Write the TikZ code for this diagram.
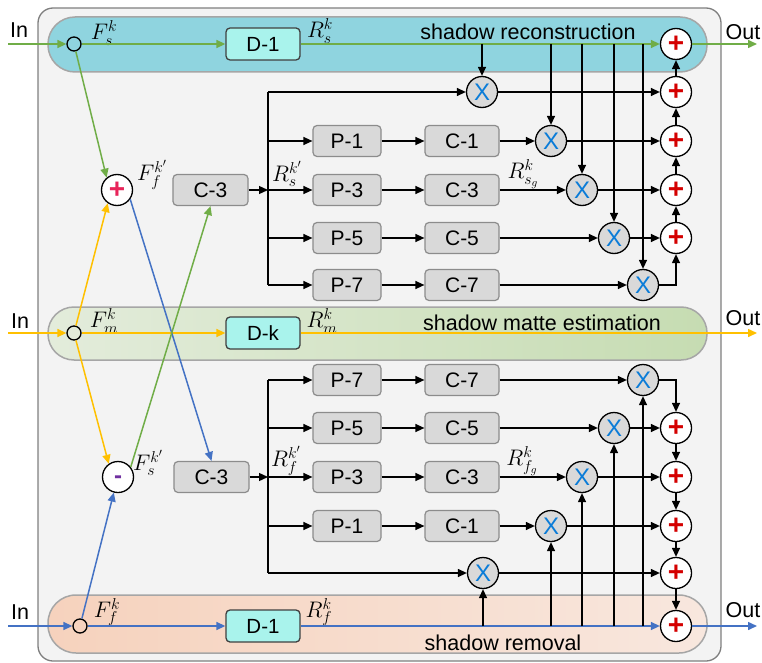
\RequirePackage{fix-cm}
\documentclass[tikz,border=0pt]{standalone}
\usepackage{fontspec}
\setmainfont{Liberation Sans}
\usetikzlibrary{arrows.meta}

\definecolor{panel}{HTML}{F3F3F3}
\definecolor{panelborder}{HTML}{7F7F7F}
\definecolor{bandborder}{HTML}{A6A6A6}
\definecolor{bandcyan}{HTML}{8FD4DF}
\definecolor{greenL}{HTML}{E3ECDB}
\definecolor{greenR}{HTML}{C6DCB2}
\definecolor{peachL}{HTML}{F6D2BD}
\definecolor{peachR}{HTML}{F8E7DE}
\definecolor{dboxfill}{HTML}{A9F3EC}
\definecolor{boxgray}{HTML}{D9D9D9}
\definecolor{boxborder}{HTML}{8C8C8C}
\definecolor{linegreen}{HTML}{70AD47}
\definecolor{lineyellow}{HTML}{FFC000}
\definecolor{lineblue}{HTML}{4472C4}
\definecolor{xblue}{HTML}{0A7CD8}
\definecolor{plusred}{HTML}{D40000}
\definecolor{pinkred}{HTML}{E8245A}
\definecolor{minuspurple}{HTML}{7030A0}

\tikzset{
  txt/.style={font=\fontsize{21.5}{24}\selectfont, inner sep=0pt},
  lbl/.style={font=\fontsize{22.5}{26}\selectfont, inner sep=0pt},
  tap/.style={circle, draw=black, line width=1.3pt, minimum size=14pt, inner sep=0pt},
  dbox/.style={rectangle, rounded corners=4pt, draw=black!75, line width=1.3pt, fill=dboxfill,
    minimum width=74pt, minimum height=32pt, inner sep=0pt, font=\fontsize{20.5}{24}\selectfont},
  pbox/.style={rectangle, rounded corners=4pt, draw=boxborder, line width=1.2pt, fill=boxgray,
    minimum width=68pt, minimum height=31pt, inner sep=0pt, font=\fontsize{21}{24}\selectfont},
  cbox/.style={pbox, minimum width=74pt},
  xnode/.style={circle, draw=black, line width=1.3pt, fill=boxgray, minimum size=31pt, inner sep=0pt,
    text=xblue, font=\fontsize{24}{24}\selectfont},
  pnode/.style={circle, draw=black, line width=1.3pt, fill=white, minimum size=31pt, inner sep=0pt,
    text=plusred, font=\bfseries\fontsize{28}{28}\selectfont},
  mnode/.style={pnode, text=minuspurple, font=\bfseries\fontsize{24}{24}\selectfont,
    text height=12.6pt, text depth=0pt},
  bline/.style={draw=black, line width=1.3pt},
  gline/.style={draw=linegreen, line width=1.5pt},
  yline/.style={draw=lineyellow, line width=1.5pt},
  uline/.style={draw=lineblue, line width=1.5pt},
}

\begin{document}
\begin{tikzpicture}[x=1pt, y=-1pt, >={Triangle[length=9pt,width=8pt]}]
\useasboundingbox (0,0) rectangle (762,663);

% outer panel and the three streams
\draw[draw=panelborder, fill=panel, line width=1.3pt, rounded corners=15pt] (38,8) rectangle (721,661);
\path[draw=bandborder, line width=1.5pt, fill=bandcyan, rounded corners=27pt] (48,17) rectangle (707,72);
\path[draw=bandborder, line width=1.5pt, left color=greenL, right color=greenR, rounded corners=26pt] (48,307) rectangle (707,360);
\path[draw=bandborder, line width=1.5pt, left color=peachL, right color=peachR, rounded corners=28pt] (48,595) rectangle (707,653);

\node[txt] (tsr) at (528,32) {shadow reconstruction};
\node[txt] (tme) at (542,323) {shadow matte estimation};
\node[txt] (tsm) at (503,643) {shadow removal};

% inputs and outputs
\node[txt] (ins-l) at (19,30) {In};
\node[txt] (inm-l) at (20,321) {In};
\node[txt] (inf-l) at (20,612) {In};
\node[txt] (outs-l) at (743,32) {Out};
\node[txt] (outm-l) at (743,318) {Out};
\node[txt] (outf-l) at (743,610) {Out};
\coordinate (srcs) at (8,44);
\coordinate (srcm) at (8,333);
\coordinate (srcf) at (8,626);
\coordinate (dsts) at (757,44);
\coordinate (dstm) at (757,333);
\coordinate (dstf) at (757,626);

\node[tap] (ins) at (74,44) {};
\node[tap] (inm) at (74,333) {};
\node[tap] (inf) at (80,626) {};

\node[dbox] (d1s) at (263,44) {D-1};
\node[dbox] (dk)  at (263,333) {D-k};
\node[dbox] (d1f) at (263,626) {D-1};

\node[pnode] (outs) at (676,44) {+};
\node[pnode] (outf) at (676,626) {+};

% cross-stream fusion
\node[pnode, text=pinkred] (fuse) at (117,190) {+};
\node[mnode] (diff) at (118,477) {-};
\node[pbox, minimum width=75pt] (c3s) at (210.5,190) {C-3};
\node[pbox, minimum width=75pt] (c3f) at (211.5,477) {C-3};

% upper multi-scale branch
\node[pbox] (p1s) at (347,141) {P-1};
\node[pbox] (p3s) at (347,190) {P-3};
\node[pbox] (p5s) at (347,238) {P-5};
\node[pbox] (p7s) at (347,285) {P-7};
\node[cbox] (k1s) at (462,141) {C-1};
\node[cbox] (k3s) at (462,190) {C-3};
\node[cbox] (k5s) at (462,238) {C-5};
\node[cbox] (k7s) at (462,285) {C-7};
\node[xnode] (x0s) at (482,92) {X};
\node[xnode] (x1s) at (551,141) {X};
\node[xnode] (x2s) at (582,190) {X};
\node[xnode] (x3s) at (614,238) {X};
\node[xnode] (x4s) at (643,285) {X};
\node[pnode] (a0s) at (676,92) {+};
\node[pnode] (a1s) at (676,141) {+};
\node[pnode] (a2s) at (676,190) {+};
\node[pnode] (a3s) at (676,238) {+};

% lower multi-scale branch
\node[pbox] (p7f) at (347,380) {P-7};
\node[pbox] (p5f) at (347,428) {P-5};
\node[pbox] (p3f) at (347,477) {P-3};
\node[pbox] (p1f) at (347,526) {P-1};
\node[cbox] (k7f) at (462,380) {C-7};
\node[cbox] (k5f) at (462,428) {C-5};
\node[cbox] (k3f) at (462,477) {C-3};
\node[cbox] (k1f) at (462,526) {C-1};
\node[xnode] (x4f) at (643,380) {X};
\node[xnode] (x3f) at (614,428) {X};
\node[xnode] (x2f) at (582,477) {X};
\node[xnode] (x1f) at (551,526) {X};
\node[xnode] (x0f) at (483,573) {X};
\node[pnode] (a3f) at (676,428) {+};
\node[pnode] (a2f) at (676,477) {+};
\node[pnode] (a1f) at (676,526) {+};
\node[pnode] (a0f) at (676,573) {+};

% math labels
\node[lbl] at (104,33) {$F_s^k$};
\node[lbl] at (320,31) {$R_s^k$};
\node[lbl] at (152,175) {$F_f^{k'}$};
\node[lbl] at (287,174) {$R_s^{k'}$};
\node[lbl] at (523,174) {$R_{s_g}^k$};
\node[lbl] at (104,321) {$F_m^k$};
\node[lbl] at (322,321) {$R_m^k$};
\node[lbl] at (148,463) {$F_s^{k'}$};
\node[lbl] at (286,461) {$R_f^{k'}$};
\node[lbl] at (522,461) {$R_{f_g}^k$};
\node[lbl] at (107,612) {$F_f^k$};
\node[lbl] at (319,612) {$R_f^k$};

% main streams
\draw[gline,->] (srcs) -- (ins);
\draw[gline,->] (ins) -- (d1s);
\draw[gline,->] (d1s) -- (outs);
\draw[gline,->] (outs) -- (dsts);
\draw[yline,->] (srcm) -- (inm);
\draw[yline,->] (inm) -- (dk);
\draw[yline,->] (dk) -- (dstm);
\draw[uline,->] (srcf) -- (inf);
\draw[uline,->] (inf) -- (d1f);
\draw[uline,->] (d1f) -- (outf);
\draw[uline,->] (outf) -- (dstf);

% exchange between streams
\draw[gline,->] (ins) -- (fuse.130);
\draw[yline,->] (inm) -- (fuse.235);
\draw[yline,->] (inm) -- (diff.125);
\draw[uline,->] (inf) -- (diff.255);
\draw[uline,->] (fuse.-35) -- (c3f.north);
\draw[gline,->] (diff.38) -- (c3s.south);

% upper branch wiring
\coordinate (js) at (268,190);
\coordinate (js0) at (268,92);
\coordinate (js1) at (268,141);
\coordinate (js5) at (268,238);
\coordinate (js7) at (268,285);
\draw[bline,->] (c3s) -- (js);
\draw[bline] (js0) -- (js7);
\draw[bline,->] (js0) -- (x0s);
\draw[bline,->] (js1) -- (p1s);
\draw[bline,->] (js) -- (p3s);
\draw[bline,->] (js5) -- (p5s);
\draw[bline,->] (js7) -- (p7s);
\foreach \i in {1,3,5,7} \draw[bline,->] (p\i s) -- (k\i s);
\draw[bline,->] (k1s) -- (x1s);
\draw[bline,->] (k3s) -- (x2s);
\draw[bline,->] (k5s) -- (x3s);
\draw[bline,->] (k7s) -- (x4s);
\foreach \n/\xx in {0/482,1/551,2/582,3/614,4/643} {
  \coordinate (ts\n) at (\xx,44);
  \draw[bline,->] (ts\n) -- (x\n s);
}
\draw[bline,->] (x0s) -- (a0s);
\draw[bline,->] (x1s) -- (a1s);
\draw[bline,->] (x2s) -- (a2s);
\draw[bline,->] (x3s) -- (a3s);
\draw[bline,->] (x4s) -| (a3s);
\draw[bline,->] (a3s) -- (a2s);
\draw[bline,->] (a2s) -- (a1s);
\draw[bline,->] (a1s) -- (a0s);
\draw[bline,->] (a0s) -- (outs);

% lower branch wiring
\coordinate (jf) at (268,477);
\coordinate (jf7) at (268,380);
\coordinate (jf5) at (268,428);
\coordinate (jf1) at (268,526);
\coordinate (jf0) at (268,573);
\draw[bline,->] (c3f) -- (jf);
\draw[bline] (jf7) -- (jf0);
\draw[bline,->] (jf7) -- (p7f);
\draw[bline,->] (jf5) -- (p5f);
\draw[bline,->] (jf) -- (p3f);
\draw[bline,->] (jf1) -- (p1f);
\draw[bline,->] (jf0) -- (x0f);
\foreach \i in {1,3,5,7} \draw[bline,->] (p\i f) -- (k\i f);
\draw[bline,->] (k7f) -- (x4f);
\draw[bline,->] (k5f) -- (x3f);
\draw[bline,->] (k3f) -- (x2f);
\draw[bline,->] (k1f) -- (x1f);
\foreach \n/\xx in {0/483,1/551,2/582,3/614,4/643} {
  \coordinate (tf\n) at (\xx,626);
  \draw[bline,->] (tf\n) -- (x\n f);
}
\draw[bline,->] (x4f) -| (a3f);
\draw[bline,->] (x3f) -- (a3f);
\draw[bline,->] (x2f) -- (a2f);
\draw[bline,->] (x1f) -- (a1f);
\draw[bline,->] (x0f) -- (a0f);
\draw[bline,->] (a3f) -- (a2f);
\draw[bline,->] (a2f) -- (a1f);
\draw[bline,->] (a1f) -- (a0f);
\draw[bline,->] (a0f) -- (outf);
\end{tikzpicture}
\end{document}
